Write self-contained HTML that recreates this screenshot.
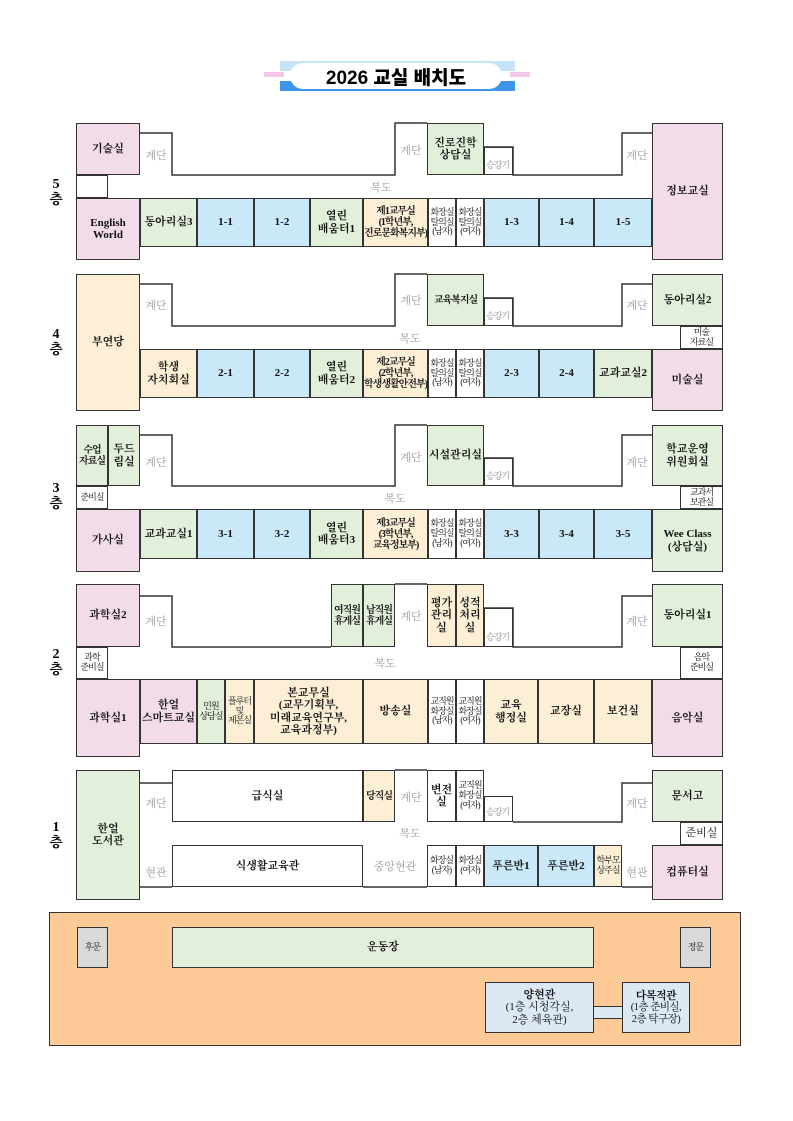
<!DOCTYPE html>
<html><head><meta charset="utf-8"><style>
body{margin:0;width:793px;height:1121px;background:#fff;position:relative;overflow:hidden;font-family:"Liberation Serif","Noto Serif CJK KR","Noto Serif CJK SC",serif;}
.b{position:absolute;border:1.5px solid #333;box-sizing:border-box;display:flex;align-items:center;justify-content:center;text-align:center;font-size:11px;line-height:1.1;color:#111;font-weight:bold;white-space:nowrap;overflow:visible}
.s{font-size:9px;font-weight:normal;letter-spacing:-1px}
.n{font-size:10px;letter-spacing:-1px}
.p{background:#f2dcea}.g{background:#e2efda}.u{background:#c9e8f8}.y{background:#fcefd6}.w{background:#fff}.gr{background:#d9d9d9}
.t{position:absolute;font-size:11px;color:#999;transform:translate(-50%,-50%);white-space:nowrap}
.f{position:absolute;font-size:14px;font-weight:bold;text-align:center;line-height:1.15;transform:translate(-50%,-50%)}
.el{align-items:flex-end;justify-content:flex-start;font-size:9px;color:#888;font-weight:normal;padding:0 0 3px 1px;letter-spacing:-1px}
</style></head><body>
<div style="position:absolute;left:264px;top:72px;width:20px;height:5px;background:#f3c6ea"></div>
<div style="position:absolute;left:510px;top:72px;width:20px;height:5px;background:#f3c6ea"></div>
<div style="position:absolute;left:280px;top:61px;width:235px;height:10px;background:#c7e3f7"></div>
<div style="position:absolute;left:280px;top:81px;width:235px;height:10px;background:#3e95e8"></div>
<div style="position:absolute;left:290px;top:63px;width:212px;height:26px;background:#fff;border-radius:13px;display:flex;align-items:center;justify-content:center;font-family:'Liberation Sans','Noto Sans CJK KR',sans-serif;font-weight:900;font-size:19px">2026 교실 배치도</div>

<svg width="793" height="1121" style="position:absolute;left:0;top:0" fill="none" stroke="#333" stroke-width="1.5">
<polyline points="140,133 172,133 172,175 395,175 395,123 427,123"/>
<polyline points="484,147 513,147 513,175 622,175 622,133 652,133"/>
<polyline points="140,284 172,284 172,326 395,326 395,274 427,274"/>
<polyline points="484,298 513,298 513,326 622,326 622,284 652,284"/>
<polyline points="140,435 172,435 172,486 395,486 395,425 427,425"/>
<polyline points="484,458 513,458 513,486 622,486 622,435 652,435"/>
<polyline points="140,596 172,596 172,647 331,647"/>
<polyline points="395,584 427,584"/>
<polyline points="484,608 513,608 513,647 622,647 622,596 652,596"/>
<polyline points="140,783 172,783"/>
<polyline points="395,770 427,770"/>
<polyline points="513,822 622,822 622,783 652,783"/>
<polyline points="140,887 172,887"/>
<polyline points="363,887 427,887"/>
<polyline points="622,887 652,887"/>
</svg>

<div class="f" style="left:56px;top:193px">5<br>층</div>
<div class="f" style="left:56px;top:343px">4<br>층</div>
<div class="f" style="left:56px;top:497px">3<br>층</div>
<div class="f" style="left:56px;top:663px">2<br>층</div>
<div class="f" style="left:56px;top:836px">1<br>층</div>

<!-- F5 -->
<div class="b p" style="left:76px;top:123px;width:64px;height:52px">기술실</div>
<div class="b w" style="left:76px;top:175px;width:32px;height:23px"></div>
<div class="b p" style="left:76px;top:198px;width:64px;height:62px">English<br>World</div>
<div class="b g" style="left:140px;top:198px;width:57px;height:49px">동아리실3</div>
<div class="b u" style="left:197px;top:198px;width:57px;height:49px">1-1</div>
<div class="b u" style="left:254px;top:198px;width:56px;height:49px">1-2</div>
<div class="b g" style="left:310px;top:198px;width:53px;height:49px">열린<br>배움터1</div>
<div class="b y n" style="left:363px;top:198px;width:65px;height:49px">제1교무실<br>(1학년부,<br>진로문화복지부)</div>
<div class="b w s" style="left:428px;top:198px;width:28px;height:49px">화장실<br>탈의실<br>(남자)</div>
<div class="b w s" style="left:456px;top:198px;width:28px;height:49px">화장실<br>탈의실<br>(여자)</div>
<div class="b u" style="left:484px;top:198px;width:55px;height:49px">1-3</div>
<div class="b u" style="left:539px;top:198px;width:55px;height:49px">1-4</div>
<div class="b u" style="left:594px;top:198px;width:58px;height:49px">1-5</div>
<div class="b g" style="left:427px;top:123px;width:57px;height:52px">진로진학<br>상담실</div>
<div class="b w el" style="left:484px;top:147px;width:29px;height:28px">승강기</div>
<div class="b p" style="left:652px;top:123px;width:71px;height:137px">정보교실</div>
<div class="t" style="left:156px;top:155px">계단</div>
<div class="t" style="left:411px;top:150px">계단</div>
<div class="t" style="left:637px;top:155px">계단</div>
<div class="t" style="left:381px;top:187px">복도</div>

<!-- F4 -->
<div class="b y" style="left:76px;top:274px;width:64px;height:137px">부연당</div>
<div class="b g n" style="left:427px;top:274px;width:57px;height:52px">교육복지실</div>
<div class="b w el" style="left:484px;top:298px;width:29px;height:28px">승강기</div>
<div class="b g" style="left:652px;top:274px;width:71px;height:52px">동아리실2</div>
<div class="b w s" style="left:680px;top:326px;width:43px;height:23px">미술<br>자료실</div>
<div class="b p" style="left:652px;top:349px;width:71px;height:62px">미술실</div>
<div class="b y" style="left:140px;top:349px;width:57px;height:49px">학생<br>자치회실</div>
<div class="b u" style="left:197px;top:349px;width:57px;height:49px">2-1</div>
<div class="b u" style="left:254px;top:349px;width:56px;height:49px">2-2</div>
<div class="b g" style="left:310px;top:349px;width:53px;height:49px">열린<br>배움터2</div>
<div class="b y n" style="left:363px;top:349px;width:65px;height:49px">제2교무실<br>(2학년부,<br>학생생활안전부)</div>
<div class="b w s" style="left:428px;top:349px;width:28px;height:49px">화장실<br>탈의실<br>(남자)</div>
<div class="b w s" style="left:456px;top:349px;width:28px;height:49px">화장실<br>탈의실<br>(여자)</div>
<div class="b u" style="left:484px;top:349px;width:55px;height:49px">2-3</div>
<div class="b u" style="left:539px;top:349px;width:55px;height:49px">2-4</div>
<div class="b g" style="left:594px;top:349px;width:58px;height:49px">교과교실2</div>
<div class="t" style="left:156px;top:305px">계단</div>
<div class="t" style="left:411px;top:300px">계단</div>
<div class="t" style="left:637px;top:305px">계단</div>
<div class="t" style="left:410px;top:338px">복도</div>

<!-- F3 -->
<div class="b g n" style="left:76px;top:425px;width:32px;height:61px">수업<br>자료실</div>
<div class="b g" style="left:108px;top:425px;width:32px;height:61px">두드<br>림실</div>
<div class="b w s" style="left:76px;top:486px;width:32px;height:23px">준비실</div>
<div class="b p" style="left:76px;top:509px;width:64px;height:63px">가사실</div>
<div class="b g" style="left:427px;top:425px;width:57px;height:61px">시설관리실</div>
<div class="b w el" style="left:484px;top:458px;width:29px;height:28px">승강기</div>
<div class="b g" style="left:652px;top:425px;width:71px;height:61px">학교운영<br>위원회실</div>
<div class="b w s" style="left:680px;top:486px;width:43px;height:23px">교과서<br>보관실</div>
<div class="b g" style="left:652px;top:509px;width:71px;height:63px">Wee Class<br>(상담실)</div>
<div class="b g" style="left:140px;top:509px;width:57px;height:50px">교과교실1</div>
<div class="b u" style="left:197px;top:509px;width:57px;height:50px">3-1</div>
<div class="b u" style="left:254px;top:509px;width:56px;height:50px">3-2</div>
<div class="b g" style="left:310px;top:509px;width:53px;height:50px">열린<br>배움터3</div>
<div class="b y n" style="left:363px;top:509px;width:65px;height:50px">제3교무실<br>(3학년부,<br>교육정보부)</div>
<div class="b w s" style="left:428px;top:509px;width:28px;height:50px">화장실<br>탈의실<br>(남자)</div>
<div class="b w s" style="left:456px;top:509px;width:28px;height:50px">화장실<br>탈의실<br>(여자)</div>
<div class="b u" style="left:484px;top:509px;width:55px;height:50px">3-3</div>
<div class="b u" style="left:539px;top:509px;width:55px;height:50px">3-4</div>
<div class="b u" style="left:594px;top:509px;width:58px;height:50px">3-5</div>
<div class="t" style="left:156px;top:462px">계단</div>
<div class="t" style="left:411px;top:457px">계단</div>
<div class="t" style="left:637px;top:462px">계단</div>
<div class="t" style="left:395px;top:498px">복도</div>

<!-- F2 -->
<div class="b p" style="left:76px;top:584px;width:64px;height:63px">과학실2</div>
<div class="b w s" style="left:76px;top:647px;width:32px;height:32px">과학<br>준비실</div>
<div class="b p" style="left:76px;top:679px;width:64px;height:78px">과학실1</div>
<div class="b g n" style="left:331px;top:584px;width:32px;height:63px">여직원<br>휴게실</div>
<div class="b g n" style="left:363px;top:584px;width:32px;height:63px">남직원<br>휴게실</div>
<div class="b y" style="left:427px;top:584px;width:29px;height:63px">평가<br>관리<br>실</div>
<div class="b y" style="left:456px;top:584px;width:28px;height:63px">성적<br>처리<br>실</div>
<div class="b w el" style="left:484px;top:608px;width:29px;height:39px">승강기</div>
<div class="b g" style="left:652px;top:584px;width:71px;height:63px">동아리실1</div>
<div class="b w s" style="left:680px;top:647px;width:43px;height:32px">음악<br>준비실</div>
<div class="b p" style="left:652px;top:679px;width:71px;height:78px">음악실</div>
<div class="b p" style="left:140px;top:679px;width:57px;height:65px">한얼<br>스마트교실</div>
<div class="b g s" style="left:197px;top:679px;width:28px;height:65px">민원<br>상담실</div>
<div class="b y s" style="left:225px;top:679px;width:29px;height:65px">플루터<br>및<br>제본실</div>
<div class="b y" style="left:254px;top:679px;width:109px;height:65px">본교무실<br>(교무기획부,<br>미래교육연구부,<br>교육과정부)</div>
<div class="b y" style="left:363px;top:679px;width:65px;height:65px">방송실</div>
<div class="b w s" style="left:428px;top:679px;width:28px;height:65px">교직원<br>화장실<br>(남자)</div>
<div class="b w s" style="left:456px;top:679px;width:28px;height:65px">교직원<br>화장실<br>(여자)</div>
<div class="b y" style="left:484px;top:679px;width:54px;height:65px">교육<br>행정실</div>
<div class="b y" style="left:538px;top:679px;width:56px;height:65px">교장실</div>
<div class="b y" style="left:594px;top:679px;width:58px;height:65px">보건실</div>
<div class="t" style="left:156px;top:621px">계단</div>
<div class="t" style="left:411px;top:616px">계단</div>
<div class="t" style="left:637px;top:621px">계단</div>
<div class="t" style="left:385px;top:663px">복도</div>

<!-- F1 -->
<div class="b g" style="left:76px;top:770px;width:64px;height:130px">한얼<br>도서관</div>
<div class="b w" style="left:172px;top:770px;width:191px;height:52px">급식실</div>
<div class="b y n" style="left:363px;top:770px;width:32px;height:52px">당직실</div>
<div class="b w" style="left:427px;top:770px;width:29px;height:52px">변전<br>실</div>
<div class="b w s" style="left:456px;top:770px;width:28px;height:52px">교직원<br>화장실<br>(여자)</div>
<div class="b w el" style="left:484px;top:796px;width:29px;height:26px">승강기</div>
<div class="b g" style="left:652px;top:770px;width:71px;height:52px">문서고</div>
<div class="b w" style="left:680px;top:822px;width:43px;height:23px;font-weight:normal">준비실</div>
<div class="b p" style="left:652px;top:845px;width:71px;height:55px">컴퓨터실</div>
<div class="b w" style="left:172px;top:845px;width:191px;height:42px">식생활교육관</div>
<div class="b w s" style="left:427px;top:845px;width:29px;height:42px">화장실<br>(남자)</div>
<div class="b w s" style="left:456px;top:845px;width:28px;height:42px">화장실<br>(여자)</div>
<div class="b u" style="left:484px;top:845px;width:54px;height:42px">푸른반1</div>
<div class="b u" style="left:538px;top:845px;width:56px;height:42px">푸른반2</div>
<div class="b y s" style="left:594px;top:845px;width:28px;height:42px">학부모<br>상주실</div>
<div class="t" style="left:156px;top:803px">계단</div>
<div class="t" style="left:411px;top:797px">계단</div>
<div class="t" style="left:637px;top:803px">계단</div>
<div class="t" style="left:410px;top:833px">복도</div>
<div class="t" style="left:156px;top:872px">현관</div>
<div class="t" style="left:395px;top:866px">중앙현관</div>
<div class="t" style="left:637px;top:872px">현관</div>

<!-- campus -->
<div class="b" style="left:49px;top:912px;width:692px;height:134px;background:#fecb98"></div>
<div class="b gr s" style="left:77px;top:927px;width:31px;height:41px">후문</div>
<div class="b g" style="left:172px;top:927px;width:422px;height:41px">운동장</div>
<div class="b gr s" style="left:680px;top:927px;width:31px;height:41px">정문</div>
<div style="position:absolute;left:593px;top:1006px;width:30px;height:13px;background:#dce9f5;border-top:1.5px solid #333;border-bottom:1.5px solid #333;box-sizing:border-box"></div>
<div class="b" style="left:485px;top:982px;width:109px;height:51px;background:#dce9f5;font-weight:normal"><div><b>양현관</b><br>(1층 시청각실,<br>2층 체육관)</div></div>
<div class="b" style="left:622px;top:982px;width:68px;height:51px;background:#dce9f5;font-weight:normal;font-size:10.5px;letter-spacing:-0.5px"><div><b style="font-size:11px">다목적관</b><br>(1층 준비실,<br>2층 탁구장)</div></div>
</body></html>
